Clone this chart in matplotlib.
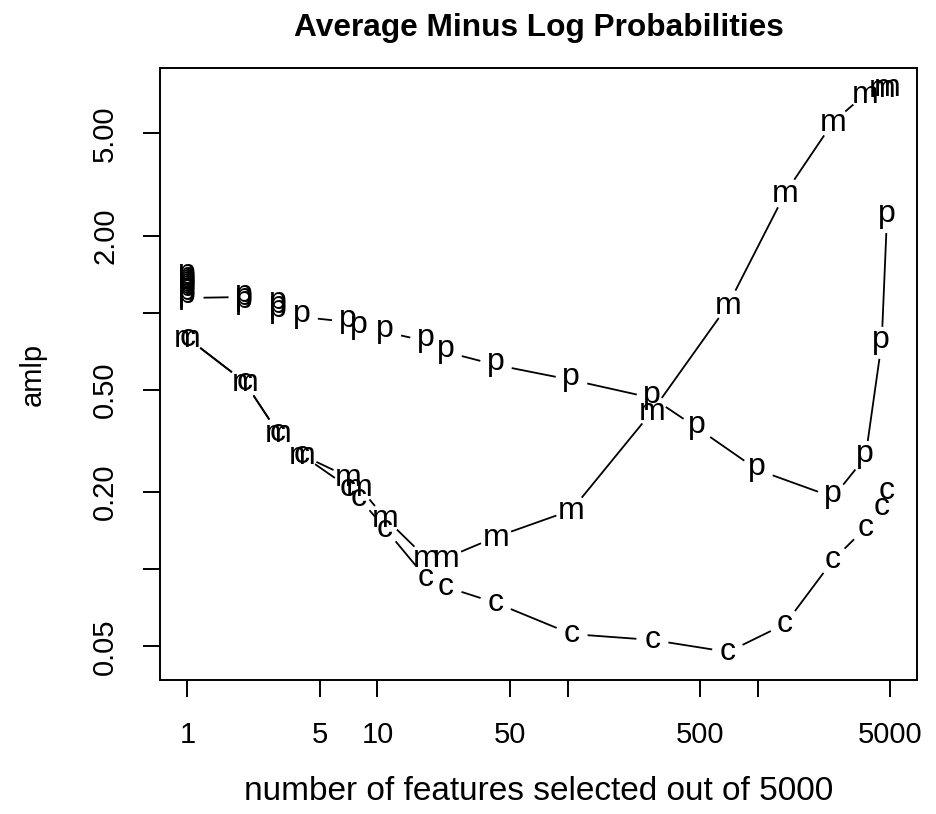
import numpy as np
import matplotlib
matplotlib.use("Agg")
import matplotlib.pyplot as plt
from matplotlib.textpath import TextPath
from matplotlib.font_manager import FontProperties
from matplotlib.transforms import offset_copy

plt.rcParams['font.family'] = ['Liberation Sans', 'DejaVu Sans']

# values (log-log plot)
x_p = [1, 1, 1, 1, 1, 1, 1, 1, 1, 1, 2, 2, 2, 3, 3, 3, 4, 7, 8, 11, 18, 23,
       42, 105, 280, 480, 1000, 2500, 3700, 4500, 4800]
amlp_p = [1.391, 1.360, 1.330, 1.305, 1.283, 1.260, 1.238, 1.215, 1.180,
          1.142, 1.152, 1.122, 1.092, 1.082, 1.044, 1.007, 0.963, 0.921,
          0.872, 0.841, 0.776, 0.703, 0.626, 0.547, 0.465, 0.356, 0.244,
          0.191, 0.274, 0.763, 2.363]

x_m = [1, 2, 3, 4, 7, 8, 11, 18, 23, 42, 105, 280, 700, 1400, 2500, 3700,
       4500, 4800]
amlp_m = [0.797, 0.537, 0.340, 0.279, 0.229, 0.209, 0.158, 0.1107, 0.1107,
          0.1336, 0.170, 0.414, 1.073, 2.93, 5.54, 7.13, 7.52, 7.55]

x_c = [1, 2, 3, 4, 7, 8, 11, 18, 23, 42, 105, 280, 700, 1400, 2500, 3700,
       4500, 4800]
amlp_c = [0.797, 0.537, 0.340, 0.279, 0.209, 0.1896, 0.1436, 0.0925, 0.0853,
          0.0739, 0.0559, 0.0530, 0.0476, 0.0612, 0.1087, 0.1449, 0.175,
          0.2019]

xticks = [1, 5, 10, 50, 100, 500, 1000, 5000]
xticklabels = ['1', '5', '10', '50', '', '500', '', '5000']
yticks = [0.05, 0.1, 0.2, 0.5, 1, 2, 5]
yticklabels = ['0.05', '', '0.20', '0.50', '', '2.00', '5.00']

FS = 21
FS_PT = 23
W, H = 936, 814
fig = plt.figure(figsize=(W / 100, H / 100), dpi=100)
ax = fig.add_axes([160 / W, 1 - 680 / H, (917 - 160) / W, (680 - 68) / H])
ax.set_xscale('log')
ax.set_yscale('log')
ax.set_xlim(0.717, 6905)
ax.set_ylim(0.0370, 9.0)

for s in ax.spines.values():
    s.set_linewidth(1.4)

ax.set_xticks(xticks)
ax.set_xticklabels(xticklabels, fontsize=FS)
ax.set_yticks(yticks)
ax.set_yticklabels(yticklabels, fontsize=FS, rotation=90, va='center')
ax.minorticks_off()
ax.tick_params(direction='out', length=12.5, width=1.4, pad=17)


def draw_series(xs, ys, letter, gap=17):
    # lines with gaps around each point (like R type="b")
    pts = ax.transData.transform(np.column_stack([xs, ys]))
    inv = ax.transData.inverted()
    for (x0, y0), (x1, y1) in zip(pts[:-1], pts[1:]):
        d = np.hypot(x1 - x0, y1 - y0)
        if d == 0:
            continue
        f = gap / d
        if f < 0.5:
            a = inv.transform([x0 + f * (x1 - x0), y0 + f * (y1 - y0)])
            b = inv.transform([x1 + f * (x0 - x1), y1 + f * (y0 - y1)])
            ax.plot([a[0], b[0]], [a[1], b[1]], color='black', lw=1.3)
    # letters centred on their ink
    fp = FontProperties(family='Liberation Sans', size=FS_PT)
    bb = TextPath((0, 0), letter, prop=fp).get_extents()
    cx = (bb.x0 + bb.x1) / 2
    cy = (bb.y0 + bb.y1) / 2
    tr = offset_copy(ax.transData, fig=fig, x=-cx, y=-cy, units='points')
    for x, y in zip(xs, ys):
        ax.text(x, y, letter, fontsize=FS_PT, ha='left', va='baseline',
                transform=tr, color='black')


draw_series(x_p, amlp_p, 'p')
draw_series(x_m, amlp_m, 'm')
draw_series(x_c, amlp_c, 'c')

cx_fig = (160 + 917) / 2 / W
fig.text(cx_fig, 1 - 28 / H, 'Average Minus Log Probabilities',
         fontsize=22.8, fontweight='bold', ha='center', va='center')
fig.text(cx_fig, 1 - 792 / H, 'number of features selected out of 5000',
         fontsize=24, ha='center', va='center')
fig.text(33 / W, 1 - 374 / H, 'amlp', fontsize=FS, rotation=90,
         ha='center', va='center')

fig.savefig('out.png', dpi=100)
